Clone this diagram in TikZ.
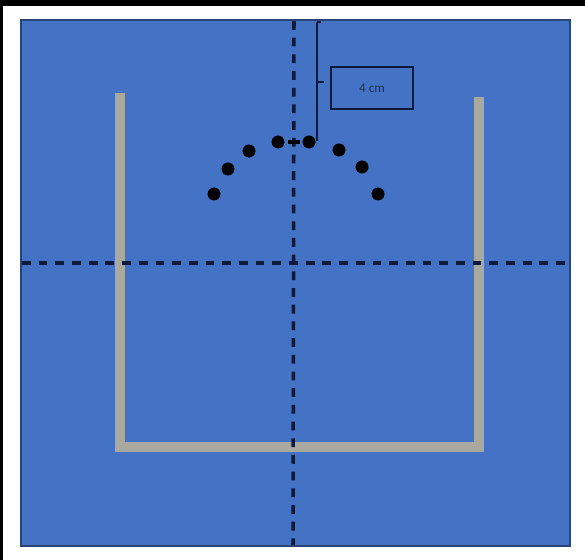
\documentclass[tikz,border=0pt]{standalone}
\usepackage{fontspec}
\setsansfont{Carlito}
\usetikzlibrary{positioning}
\definecolor{panelblue}{HTML}{4472C4}
\definecolor{wallgray}{HTML}{A9A99F}
\definecolor{inkblue}{HTML}{0E1A3C}

\begin{document}
\begin{tikzpicture}[x=0.02cm,y=-0.02cm,every node/.style={font=\sffamily\fontsize{7.5}{9}\selectfont},
  axisline/.style={inkblue,line width=2pt,dash pattern=on 5pt off 4.5pt},
  wall/.style={wallgray,line width=5.5pt,line join=miter}]
\useasboundingbox (0,0) rectangle (585,560);
\fill[white] (0,0) rectangle (585,560);
\fill[black] (0,0) rectangle (585,6);
\fill[black] (0,0) rectangle (3,560);
\filldraw[fill=panelblue,draw=panelblue!60!black,line width=.6pt] (21,20) rectangle (570,546);
% walls
\coordinate (w1) at (120,93);
\coordinate (w2) at (120,447);
\coordinate (w3) at (479,447);
\coordinate (w4) at (479,97);
\draw[wall] (w1)--(w2)--(w3)--(w4);
% axes
\coordinate (ytop) at (294,21);
\coordinate (ybot) at (293,545);
\coordinate (xleft) at (22,263);
\coordinate (xright) at (569,263);
\draw[axisline] (ytop)--(ybot);
\draw[axisline] (xleft)--(xright);
% points
\coordinate (d1) at (214,194);
\coordinate (d2) at (228,169);
\coordinate (d3) at (249,151);
\coordinate (d4) at (278,142);
\coordinate (d5) at (309,142);
\coordinate (d6) at (339,150);
\coordinate (d7) at (362,167);
\coordinate (d8) at (378,194);
\foreach \p in {d1,d2,d3,d4,d5,d6,d7,d8} \fill (\p) circle (6.5);
\coordinate (c1) at (288,142);
\coordinate (c2) at (300,142);
\draw[line width=1.8pt] (c1)--(c2);
% 4 cm mark
\coordinate (mtop) at (317,22);
\coordinate (mfoot) at (317,141);
\coordinate (mmid) at (317,82);
\draw[inkblue,line width=.9pt] (mtop)--(mfoot);
\draw[inkblue,line width=.9pt] (mtop)--++(4,0);
\draw[inkblue,line width=.9pt] (mmid)--++(7,0);
\node[draw=inkblue,line width=1.3pt,minimum width=1.63cm,minimum height=0.85cm,text=inkblue!80!gray] (gap) at (372,88) {4 cm};
\end{tikzpicture}
\end{document}
